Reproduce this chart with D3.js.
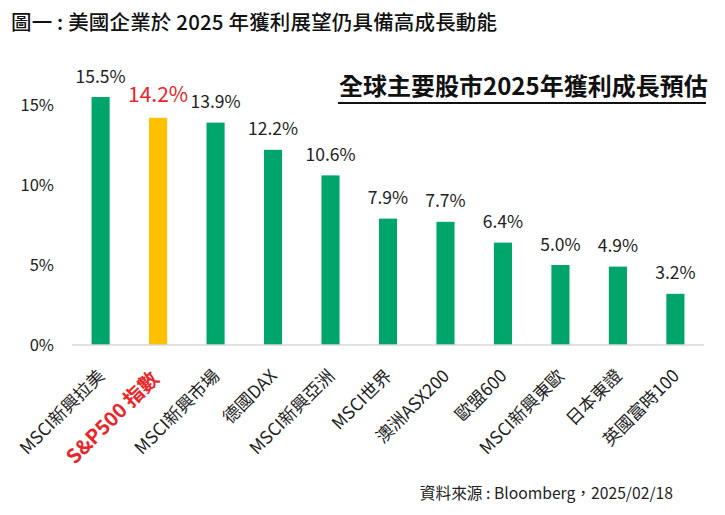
<!DOCTYPE html>
<html><head><meta charset="utf-8">
<script src="https://cdn.jsdelivr.net/npm/d3@7"></script>
<style>
html,body{margin:0;padding:0;background:#fff;}
svg{display:block;font-family:"Noto Sans CJK TC","Noto Sans",sans-serif;}
</style></head>
<body>
<svg id="chart" width="725" height="515"></svg>
<script>
const categories = ["MSCI新興拉美","S&P500 指數","MSCI新興市場","德國DAX","MSCI新興亞洲","MSCI世界","澳洲ASX200","歐盟600","MSCI新興東歐","日本東證","英國富時100"];
const values = [15.5, 14.2, 13.9, 12.2, 10.6, 7.9, 7.7, 6.4, 5.0, 4.9, 3.2];
const highlight = "S&P500 指數";
const yTicks = [0, 5, 10, 15];
const title = "圖一 : 美國企業於 2025 年獲利展望仍具備高成長動能";
const subtitle = "全球主要股市2025年獲利成長預估";
const source = "資料來源 : Bloomberg，2025/02/18";

const svg = d3.select("#chart");
const GREEN = "#00a56b", YELLOW = "#ffc000", RED = "#e8262a", TXT = "#222";

const x = d3.scaleBand().domain(categories).range([72, 704]).paddingInner(0.685).paddingOuter(0.34);
const y = d3.scaleLinear().domain([0, 16]).range([345, 89]);

// title
svg.append("text").attr("x", 11).attr("y", 30).attr("font-size", 20.5).attr("font-weight", 500)
  .attr("fill", "#111").attr("textLength", 486).attr("lengthAdjust", "spacing").text(title);

// subtitle
svg.append("text").attr("x", 339).attr("y", 95).attr("font-size", 24).attr("font-weight", 700)
  .attr("fill", "#111").text(subtitle);
svg.append("line").attr("x1", 338).attr("x2", 706).attr("y1", 103).attr("y2", 103)
  .attr("stroke", "#111").attr("stroke-width", 2);

// y axis labels
const yAxis = d3.axisLeft(y).tickValues(yTicks).tickFormat(d => d + "%").tickSize(0).tickPadding(0);
const yg = svg.append("g").attr("transform", "translate(54,0)").call(yAxis);
yg.select(".domain").remove();
yg.selectAll("text").attr("font-size", 16.5).attr("fill", TXT).attr("font-family", "'Noto Sans CJK TC','Noto Sans',sans-serif");

// bars
svg.append("g").selectAll("rect").data(categories).join("rect")
  .attr("x", d => x(d)).attr("width", x.bandwidth())
  .attr("y", (d, i) => y(values[i])).attr("height", (d, i) => y(0) - y(values[i]))
  .attr("fill", d => d === highlight ? YELLOW : GREEN);

// baseline axis
const xAxis = d3.axisBottom(x).tickSize(0).tickPadding(0).tickFormat("");
const xg = svg.append("g").attr("transform", `translate(0,${y(0)})`).call(xAxis);
xg.select(".domain").attr("stroke", "#d9d9d9").attr("stroke-width", 1.5).attr("d", "M72,0H704");
xg.selectAll(".tick").remove();

// value labels
svg.append("g").selectAll("text").data(categories).join("text")
  .attr("x", d => x(d) + x.bandwidth() / 2)
  .attr("y", (d, i) => y(values[i]) - (d === highlight ? 16 : 14.5))
  .attr("text-anchor", "middle")
  .attr("font-size", d => d === highlight ? 21 : 17.5)
  .attr("fill", d => d === highlight ? RED : TXT)
  .text((d, i) => values[i].toFixed(1) + "%");

// category labels rotated
svg.append("g").selectAll("text").data(categories).join("text")
  .attr("transform", d => `translate(${x(d) + x.bandwidth() / 2 + (d === highlight ? 2 : 5)},${d === highlight ? 380 : 377}) rotate(-45)`)
  .attr("text-anchor", "end")
  .attr("font-size", d => d === highlight ? 20 : 17.5)
  .attr("font-weight", d => d === highlight ? 700 : 400)
  .attr("fill", d => d === highlight ? RED : TXT)
  .text(d => d);

// source
svg.append("text").attr("x", 673).attr("y", 499).attr("text-anchor", "end")
  .attr("font-size", 15.7).attr("fill", TXT).text(source);
</script>
</body></html>
